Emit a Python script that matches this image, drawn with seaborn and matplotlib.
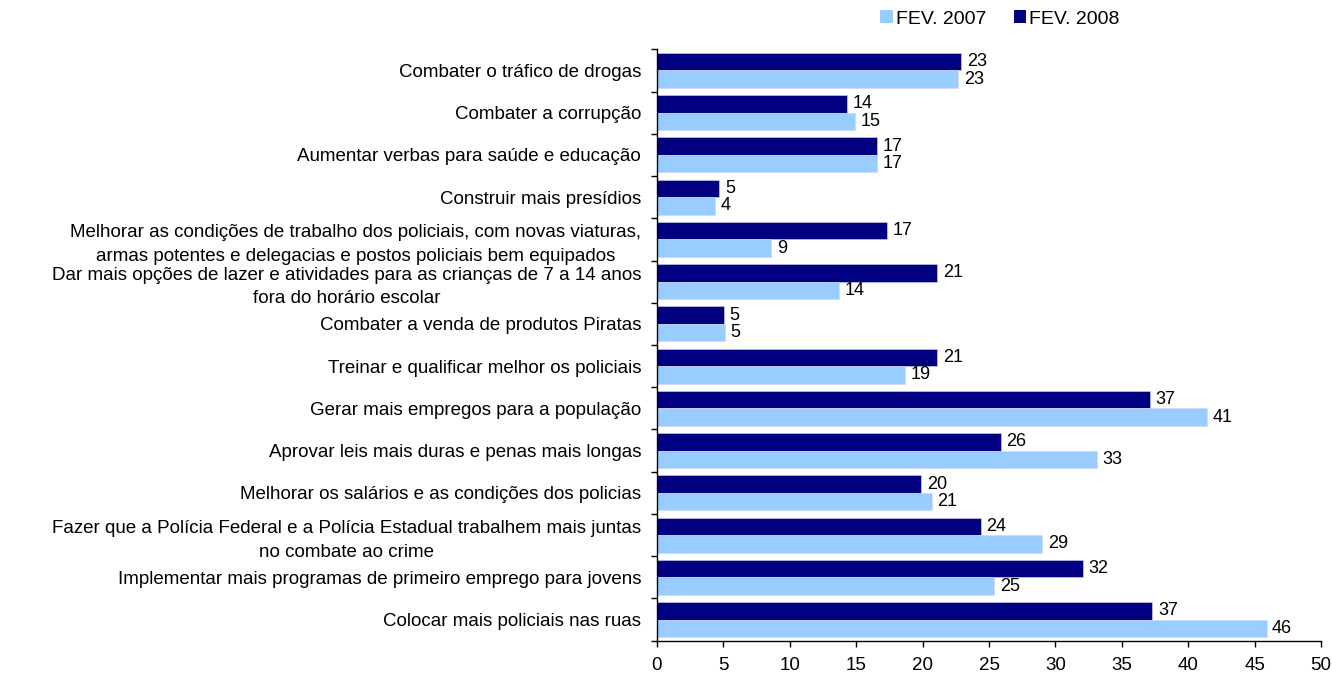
import matplotlib
matplotlib.use("Agg")
import matplotlib.pyplot as plt
import seaborn as sns
import pandas as pd
import numpy as np
from matplotlib.patches import Patch

categories = [
    "Combater o tráfico de drogas",
    "Combater a corrupção",
    "Aumentar verbas para saúde e educação",
    "Construir mais presídios",
    "Melhorar as condições de trabalho dos policiais, com novas viaturas,\narmas potentes e delegacias e postos policiais bem equipados",
    "Dar mais opções de lazer e atividades para as crianças de 7 a 14 anos\nfora do horário escolar",
    "Combater a venda de produtos Piratas",
    "Treinar e qualificar melhor os policiais",
    "Gerar mais empregos para a população",
    "Aprovar leis mais duras e penas mais longas",
    "Melhorar os salários e as condições dos policias",
    "Fazer que a Polícia Federal e a Polícia Estadual trabalhem mais juntas\nno combate ao crime",
    "Implementar mais programas de primeiro emprego para jovens",
    "Colocar mais policiais nas ruas",
]
fev_2008 = [22.9, 14.3, 16.6, 4.7, 17.3, 21.1, 5.05, 21.1, 37.1, 25.9, 19.9, 24.4, 32.1, 37.3]
fev_2007 = [22.7, 14.9, 16.6, 4.4, 8.6, 13.7, 5.1, 18.65, 41.4, 33.1, 20.7, 29.0, 25.4, 45.9]
series_names = ["FEV. 2007", "FEV. 2008"]
x_ticks = [0, 5, 10, 15, 20, 25, 30, 35, 40, 45, 50]

colors = {"FEV. 2007": "#99CCFF", "FEV. 2008": "#000080"}

df = pd.DataFrame({
    "categoria": categories * 2,
    "valor": fev_2008 + fev_2007,
    "serie": [series_names[1]] * len(categories) + [series_names[0]] * len(categories),
})

sns.set_theme(style="white")
plt.rcParams["font.family"] = ["Liberation Sans", "DejaVu Sans"]

W, H = 1332, 674
fig = plt.figure(figsize=(W / 100, H / 100), dpi=100)
left, right, top, bottom = 657, 1321, 49.3, 640.7
ax = fig.add_axes([left / W, 1 - bottom / H, (right - left) / W, (bottom - top) / H])

sns.barplot(data=df, y="categoria", x="valor", hue="serie",
            hue_order=[series_names[1], series_names[0]], order=categories,
            palette=colors, saturation=1, orient="h", width=0.83, dodge=True,
            edgecolor="#d0d8f0", linewidth=0.4, ax=ax, legend=False)

for cont in ax.containers:
    ax.bar_label(cont, fmt="%.0f", padding=4, fontsize=13, color="black")

ax.set_xlim(0, 50)
ax.set_ylim(len(categories) - 0.5, -0.5)
ax.set_xticks(x_ticks)
ax.set_xlabel("")
ax.set_ylabel("")
ax.tick_params(axis="x", labelsize=13.5, length=4.5, width=1, direction="out", color="black",
               bottom=True, pad=7, labelcolor="black")
ax.tick_params(axis="y", which="major", length=0, labelsize=13.5, pad=11.5, labelcolor="black")
ax.set_yticks(np.arange(len(categories) + 1) - 0.5, minor=True)
ax.tick_params(axis="y", which="minor", length=4.5, width=1, color="black", left=True)
for lab in ax.get_yticklabels():
    lab.set_multialignment("center")
    lab.set_linespacing(1.5)

for s in ["top", "right"]:
    ax.spines[s].set_visible(False)
for s in ["left", "bottom"]:
    ax.spines[s].set_color("black")
    ax.spines[s].set_linewidth(1)

handles = [Patch(facecolor=colors[n], edgecolor="none") for n in series_names]
fig.legend(handles, series_names, loc="center", bbox_to_anchor=(1000 / W, 1 - 19 / H),
           ncol=2, frameon=False, fontsize=14, handlelength=0.65, handleheight=0.65,
           handletextpad=0.15, columnspacing=1.4, labelcolor="black")

fig.savefig("out.png", dpi=100)
